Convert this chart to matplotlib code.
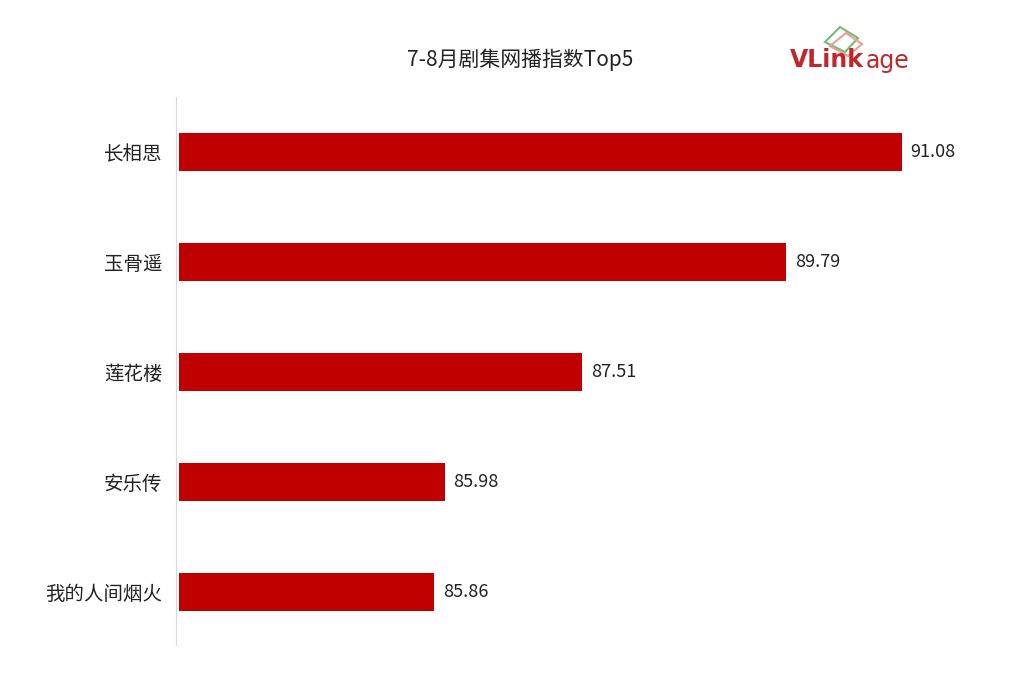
import matplotlib.pyplot as plt
from matplotlib.patches import Polygon

plt.rcParams['font.family'] = ['Noto Sans CJK SC', 'DejaVu Sans']

dramas = ['长相思', '玉骨遥', '莲花楼', '安乐传', '我的人间烟火']
index_values = [91.08, 89.79, 87.51, 85.98, 85.86]

W, H = 1024, 680
fig = plt.figure(figsize=(W / 100, H / 100), dpi=100)
fig.patch.set_facecolor('white')
ax = fig.add_axes([179 / W, 1 - 645 / H, (960 - 179) / W, (645 - 97) / H])

RED = '#C00000'
ypos = list(range(len(dramas)))
ax.barh(ypos, [v - 83.016 for v in index_values], left=83.016, height=0.35, color=RED)
for y, v in zip(ypos, index_values):
    ax.text(v + 0.1, y, f'{v:.2f}', va='center', ha='left', fontsize=13, color='#222222')

ax.set_xlim(83.016, 91.73)
ax.set_ylim(4.48, -0.5)
ax.set_yticks(ypos)
ax.set_yticklabels(dramas)
ax.tick_params(axis='y', length=0, pad=10, labelsize=14, labelcolor='#222222')
ax.set_xticks([])
for s in ['top', 'right', 'bottom']:
    ax.spines[s].set_visible(False)
ax.spines['left'].set_color('#D9D9D9')
ax.spines['left'].set_position(('outward', 2))

fig.text(520 / W, 1 - 60 / H, '7-8月剧集网播指数Top5', ha='center', va='center',
         fontsize=15, color='#222222')

# logo
fig.text(790 / W, 1 - 60 / H, 'VLink', ha='left', va='center', fontsize=17,
         fontweight='bold', color='#C0272D', family='DejaVu Sans')
fig.text(866 / W, 1 - 61 / H, 'age', ha='left', va='center', fontsize=17,
         color='#C0272D', family='DejaVu Sans')
pts_g = [(825, 42), (840, 27), (858, 38), (845, 52)]
pts_r = [(830, 46), (846, 33), (862, 44), (848, 56)]
for pts, c in [(pts_g, '#6FBF73'), (pts_r, '#E8A090')]:
    fig.patches.append(Polygon([(x / W, 1 - y / H) for x, y in pts], closed=True,
                               fill=False, edgecolor=c, linewidth=1.5,
                               transform=fig.transFigure))

fig.savefig('out.png', dpi=100)
